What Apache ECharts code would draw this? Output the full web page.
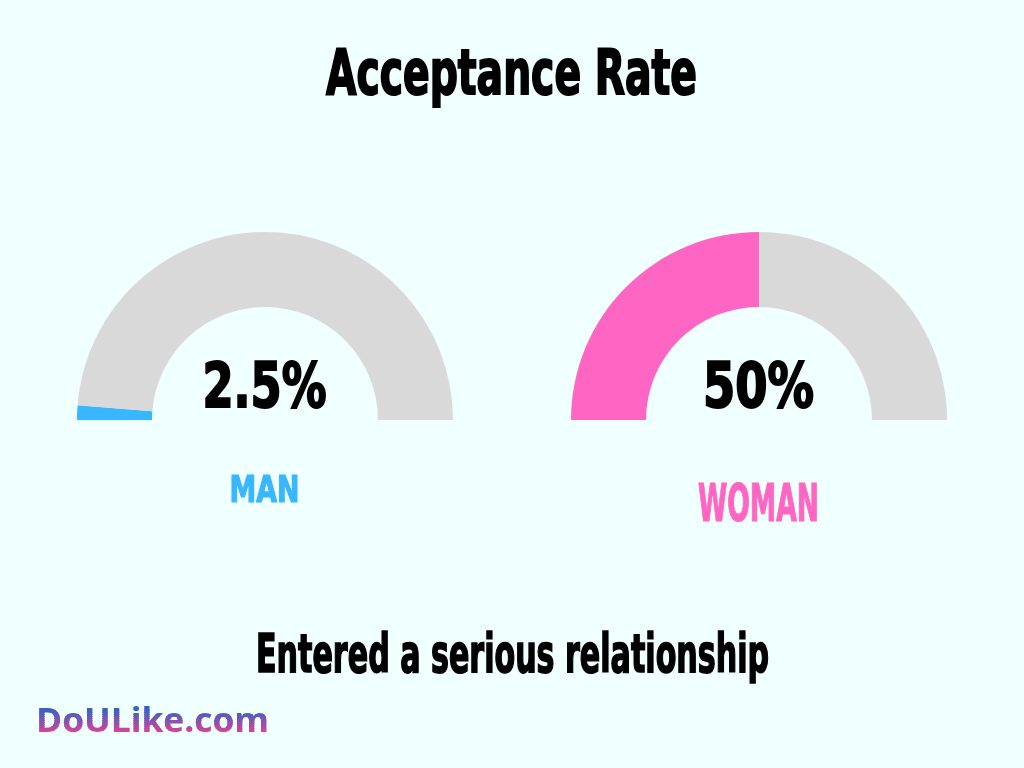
<!DOCTYPE html>
<html>
<head>
<meta charset="utf-8">
<script src="https://cdn.jsdelivr.net/npm/echarts@6/dist/echarts.min.js"></script>
<style>
html,body{margin:0;padding:0;background:#F0FFFF;}
#c{width:1024px;height:768px;}
</style>
</head>
<body>
<div id="c"></div>
<script>
const categories = ['MAN', 'WOMAN'];
const values = [2.5, 50];
const valueLabels = ['2.5%', '50%'];
const titleText = 'Acceptance Rate';
const subtitleText = 'Entered a serious relationship';
const brandText = 'DoULike.com';

const colors = ['#38B6FF', '#FF66C4'];
const brandColors = ['#3462C6', '#EC3E96'];
const centersX = [265, 759];
const centerY = 420;
const F = '"DejaVu Sans Condensed", "DejaVu Sans", sans-serif';

const mctx = document.createElement('canvas').getContext('2d');
function fitScale(text, font, w) {
  mctx.font = font;
  return w / mctx.measureText(text).width;
}
// cx, capCenterY, fontSize, target width
function condensed(text, cx, capCy, size, w, fill, strokeW) {
  const font = 'bold ' + size + 'px ' + F;
  const s = fitScale(text, font, w);
  return {
    type: 'text', x: cx, y: capCy + 0.08 * size, scaleX: s, scaleY: 1,
    silent: true,
    style: {text: text, fill: fill, font: font, textAlign: 'center', textVerticalAlign: 'middle',
      stroke: fill, lineWidth: strokeW}
  };
}

const chart = echarts.init(document.getElementById('c'), null, {renderer: 'canvas'});

const series = categories.map((c, i) => ({
  type: 'pie',
  name: c,
  center: [centersX[i], centerY],
  radius: [113, 188],
  startAngle: 180,
  clockwise: true,
  silent: true,
  label: {show: false},
  labelLine: {show: false},
  emphasis: {disabled: true},
  animation: false,
  data: [
    {value: values[i], itemStyle: {color: colors[i]}},
    {value: 100 - values[i], itemStyle: {color: '#D9D9D9'}},
    {value: 100, itemStyle: {color: 'rgba(0,0,0,0)'}}
  ]
}));

const graphics = [
  condensed(titleText, 511.5, 72.5, 62, 371, '#000', 2),
  condensed(subtitleText, 512.5, 653.5, 53, 513, '#000', 1.6)
];
const numW = [124, 111];
const catCapCy = [489, 503.5];
const catSize = [38, 51];
const catW = [70, 121];
categories.forEach((c, i) => {
  graphics.push(condensed(valueLabels[i], centersX[i] - 0.5, 386, 63, numW[i], '#000', 2));
  graphics.push(condensed(c, centersX[i] - 0.5, catCapCy[i], catSize[i], catW[i], colors[i], 1.2));
});

chart.setOption({
  backgroundColor: '#F0FFFF',
  animation: false,
  series: series,
  graphic: graphics
});

// Brand text with a vertical blue-to-pink gradient: stacked copies of the
// same text, each clipped to a thin horizontal band of interpolated colour.
const brandFont = 'bold 34px "Open Sans", sans-serif';
const brandScale = fitScale(brandText, brandFont, 233);
const bx = 36, by = 722.5;
const topY = 708, botY = 736, step = 2;
const nBands = (botY - topY) / step;
const group = new echarts.graphic.Group({silent: true});
for (let k = 0; k < nBands; k++) {
  const t = nBands === 1 ? 0 : k / (nBands - 1);
  const col = echarts.color.lerp(t, brandColors);
  const sTop = k === 0 ? topY - 40 : topY + k * step;
  const sBot = k === nBands - 1 ? botY + 40 : topY + (k + 1) * step + 1;
  const txt = new echarts.graphic.Text({
    x: bx, y: by, scaleX: brandScale, silent: true,
    style: {text: brandText, font: brandFont, fill: col, align: 'left', verticalAlign: 'middle'}
  });
  txt.setClipPath(new echarts.graphic.Rect({
    shape: {x: -20, y: sTop - by, width: 500, height: sBot - sTop}
  }));
  group.add(txt);
}
chart.getZr().add(group);
</script>
</body>
</html>
